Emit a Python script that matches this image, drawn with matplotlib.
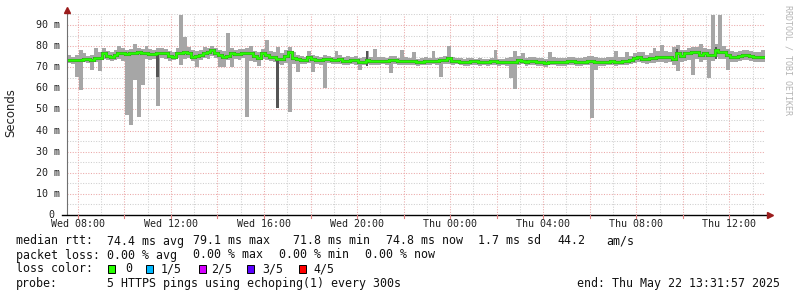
import matplotlib
matplotlib.use("Agg")
import matplotlib.pyplot as plt
from matplotlib.patches import Rectangle
import numpy as np

# smokeping data, 10 minute steps starting Wed 07:31:57
median = [73.2, 73.2, 73.4, 73.4, 73.8, 73.8, 73.2, 74.2, 74.5, 76.6,
          75.4, 75.0, 75.8, 76.6, 76.9, 76.3, 76.6, 76.6, 77.4, 76.9,
          76.6, 76.3, 76.3, 76.6, 76.9, 76.6, 75.4, 75.0, 76.6, 76.6,
          77.4, 76.6, 75.0, 75.4, 75.8, 76.9, 77.0, 78.2, 76.6, 75.8,
          75.0, 75.4, 76.6, 76.3, 76.3, 76.6, 76.6, 76.5, 75.4, 74.2,
          76.6, 75.8, 75.0, 75.0, 73.8, 73.8, 75.4, 77.0, 74.2, 74.0,
          73.4, 73.4, 75.0, 73.8, 73.4, 73.4, 73.8, 73.8, 73.4, 73.6,
          74.0, 73.0, 73.0, 73.4, 73.4, 72.6, 72.6, 73.4, 72.8, 72.8,
          72.8, 73.0, 73.0, 73.4, 73.4, 72.8, 72.8, 72.8, 72.8, 72.8,
          72.4, 72.4, 72.8, 72.8, 73.0, 73.0, 73.4, 73.4, 74.2, 73.0,
          73.0, 72.6, 72.4, 72.4, 72.8, 72.8, 72.6, 72.6, 72.4, 72.8,
          72.8, 72.4, 72.4, 72.4, 72.6, 72.6, 73.2, 73.0, 72.4, 73.0,
          73.0, 72.4, 72.4, 71.8, 72.6, 72.6, 72.4, 72.4, 72.4, 72.8,
          72.8, 72.5, 72.5, 72.5, 73.0, 73.0, 72.4, 72.4, 72.5, 72.6,
          72.8, 72.4, 72.6, 72.8, 73.0, 73.2, 74.2, 75.0, 74.0, 73.8,
          74.2, 74.2, 75.0, 75.0, 75.0, 75.0, 73.8, 76.6, 75.4, 76.6,
          76.6, 77.4, 77.0, 75.6, 76.6, 76.0, 75.8, 78.2, 77.0, 77.0,
          75.8, 75.0, 75.0, 75.4, 75.8, 75.8, 75.4, 75.0, 75.0, 75.0]

smoke_lo = [72.0, 71.5, 65.5, 59.0, 72.5, 72.0, 68.5, 72.5, 68.0, 74.0,
            73.5, 73.0, 73.5, 74.0, 73.0, 47.4, 42.6, 64.0, 46.6, 61.6,
            74.0, 73.5, 74.0, 51.6, 74.5, 74.0, 73.0, 73.5, 74.5, 71.0,
            74.0, 74.5, 73.0, 70.0, 73.5, 74.5, 74.0, 75.5, 74.5, 70.0,
            70.0, 73.5, 70.0, 74.0, 73.5, 74.5, 46.6, 73.0, 72.5, 70.5,
            74.0, 73.5, 73.0, 72.5, 71.5, 71.0, 72.0, 48.8, 71.5, 67.8,
            71.5, 71.5, 72.0, 67.8, 71.5, 71.0, 60.0, 72.0, 71.5, 71.5,
            71.5, 71.0, 71.0, 71.5, 71.0, 68.6, 71.0, 71.5, 71.0, 71.0,
            71.0, 71.5, 71.0, 67.4, 71.5, 71.0, 71.0, 71.0, 71.0, 71.0,
            70.5, 71.0, 71.0, 71.0, 71.5, 71.0, 65.5, 71.5, 71.5, 71.0,
            71.5, 71.0, 70.5, 70.5, 71.0, 71.0, 70.5, 71.0, 70.5, 71.0,
            71.0, 70.5, 71.0, 70.5, 64.8, 59.6, 71.0, 71.5, 70.5, 71.0,
            71.0, 70.5, 70.5, 70.0, 71.0, 71.0, 70.5, 70.5, 70.5, 71.0,
            71.0, 70.5, 70.5, 71.0, 71.0, 45.9, 68.6, 70.5, 70.5, 71.0,
            71.0, 70.5, 71.0, 71.0, 71.0, 71.5, 72.0, 72.5, 72.0, 71.5,
            72.0, 72.0, 72.5, 72.5, 72.0, 72.5, 71.0, 68.4, 72.5, 73.0,
            73.5, 66.3, 74.0, 72.5, 73.5, 64.7, 73.0, 75.0, 74.0, 74.0,
            68.6, 72.5, 72.5, 73.0, 73.5, 73.5, 73.0, 72.5, 72.5, 72.5]

smoke_hi = [76.0, 75.0, 76.0, 78.0, 76.5, 75.5, 76.0, 79.0, 77.0, 79.0,
            77.5, 77.0, 78.0, 80.0, 79.0, 78.0, 78.5, 81.0, 79.0, 78.5,
            80.0, 78.5, 78.0, 79.0, 79.0, 78.5, 77.5, 77.0, 79.0, 94.7,
            84.3, 79.5, 78.0, 77.5, 78.0, 79.5, 79.0, 80.0, 79.0, 78.0,
            77.5, 86.0, 79.0, 78.0, 78.5, 78.5, 79.0, 80.0, 77.5, 77.0,
            78.5, 83.0, 77.5, 77.0, 79.6, 76.5, 78.0, 79.6, 77.0, 76.0,
            75.5, 75.0, 77.5, 76.0, 75.5, 75.0, 76.0, 75.5, 75.0, 77.5,
            76.0, 75.0, 75.5, 75.0, 75.5, 74.5, 75.0, 77.6, 75.0, 78.5,
            75.0, 75.0, 74.5, 75.5, 75.5, 74.5, 78.0, 75.0, 74.5, 77.0,
            74.0, 74.5, 75.0, 74.5, 77.5, 74.5, 75.0, 75.5, 80.0, 75.0,
            74.5, 74.5, 74.0, 74.5, 74.5, 74.0, 74.5, 74.0, 74.0, 74.5,
            78.0, 74.0, 74.0, 74.5, 75.0, 77.5, 75.5, 76.5, 74.5, 75.0,
            75.0, 74.5, 74.5, 74.0, 77.0, 75.0, 74.5, 74.5, 74.5, 75.0,
            75.0, 74.5, 74.5, 75.0, 75.5, 75.5, 75.0, 74.5, 74.5, 75.0,
            75.0, 77.5, 75.0, 75.0, 77.0, 75.5, 76.5, 77.0, 77.4, 76.0,
            76.5, 79.0, 77.5, 80.5, 77.5, 77.0, 79.7, 80.5, 78.0, 78.0,
            79.0, 79.5, 79.5, 81.0, 79.0, 78.5, 94.7, 81.0, 94.7, 80.0,
            78.5, 77.5, 77.0, 77.5, 78.0, 78.0, 77.5, 77.0, 77.0, 78.0]

# darker inner smoke (ping 2..4) where it stands out
dark_idx = [23, 54, 77, 157, 167]
dark_lo = [65.4, 50.6, 70.5, 74.0, 74.0]
dark_hi = [76.6, 74.0, 77.5, 78.5, 79.5]

hour_ticks = [8, 12, 16, 20, 24, 28, 32, 36]
hour_labels = ["Wed 08:00", "Wed 12:00", "Wed 16:00", "Wed 20:00",
               "Thu 00:00", "Thu 04:00", "Thu 08:00", "Thu 12:00"]
y_ticks = [0, 10, 20, 30, 40, 50, 60, 70, 80, 90]
y_labels = ["0", "10 m", "20 m", "30 m", "40 m", "50 m", "60 m", "70 m", "80 m", "90 m"]

loss_labels = ["0", "1/5", "2/5", "3/5", "4/5"]
loss_colors = ["#26ff00", "#00b8ff", "#d400ff", "#5a00ff", "#ff0000"]

W, H = 797, 297
mono = "DejaVu Sans Mono"

start = 7 + 31 / 60 + 57 / 3600
step = 1 / 6
edges = start + np.arange(len(median) + 1) * step

fig = plt.figure(figsize=(W / 100, H / 100), dpi=100)
ax = fig.add_axes([67 / W, 82 / H, 698 / W, 201 / H])
ax.set_xlim(start, start + 30)
ax.set_ylim(0, 95.2)

# grid
for h in range(8, 38):
    c = "#eba8a8" if h % 2 == 0 else "#cfcfcf"
    ax.axvline(h, color=c, lw=0.75, ls=(0, (1, 1.5)), zorder=0)
for v in range(5, 100, 5):
    c = "#eba8a8" if v % 10 == 0 else "#cfcfcf"
    ax.axhline(v, color=c, lw=0.75, ls=(0, (1, 1.5)), zorder=0)

# smoke
lo = np.array(smoke_lo)
hi = np.array(smoke_hi)
ax.bar(edges[:-1], hi - lo, bottom=lo, width=step, align="edge",
       color="#a6a6a6", linewidth=0, zorder=1)
ax.bar(edges[dark_idx], np.array(dark_hi) - np.array(dark_lo), bottom=dark_lo,
       width=step * 0.6, align="edge", color="#555555", linewidth=0, zorder=2)

# median
ax.stairs(median, edges, baseline=None, color="#3a3a3a", lw=2.2, zorder=3)
ax.stairs(median, edges, baseline=None, color=loss_colors[0], lw=1.8, zorder=4)

for s in ax.spines.values():
    s.set_visible(False)
ax.set_xticks([])
ax.set_yticks([])

# axes lines with arrows
ax.plot([0, 0], [0, 1.015], transform=ax.transAxes, color="#707070", lw=0.8, clip_on=False, zorder=5)
ax.plot([-0.007, 1.005], [0, 0], transform=ax.transAxes, color="black", lw=1.0, clip_on=False, zorder=5)
ax.plot([0], [1.02], marker="^", ms=4, color="#9b1c1c", transform=ax.transAxes, clip_on=False, zorder=6)
ax.plot([1.0075], [0], marker=">", ms=4, color="#9b1c1c", transform=ax.transAxes, clip_on=False, zorder=6)

# x ticks and labels
for h in range(8, 38, 2):
    ax.plot([h, h], [-1.3, 0], color="#e08080", lw=0.8, clip_on=False, zorder=5)
for h, lab in zip(hour_ticks, hour_labels):
    ax.text(h, -4.4, lab, ha="center", va="center", family=mono, fontsize=7.2, color="#222222")

# y labels
cw = 0.602 * 7.2 * 100 / 72
for v, lab in zip(y_ticks, y_labels):
    xr = 60 if v else 60 - cw
    fig.text(xr / W, 1 - (215 - v * 201 / 95.2) / H, lab, ha="right", va="center",
             family=mono, fontsize=7.2, color="#222222")

fig.text(11 / W, 1 - 113 / H, "Seconds", rotation=90, ha="center", va="center",
         fontsize=8.4, color="#222222")
fig.text(788 / W, 1 - 5 / H, "RRDTOOL / TOBI OETIKER", rotation=270, ha="center", va="top",
         family=mono, fontsize=6, color="#b4b4b4")


def put(px, py, s):
    fig.text(px / W, 1 - py / H, s, ha="left", va="center", family=mono, fontsize=8.4, color="#111111")


for px, s in [(16, "median rtt:"), (107, "74.4 ms avg"), (193, "79.1 ms max"), (293, "71.8 ms min"),
              (386, "74.8 ms now"), (478, "1.7 ms sd"), (557, "44.2"), (606, "am/s")]:
    put(px, 241, s)
for px, s in [(16, "packet loss:"), (107, "0.00 % avg"), (193, "0.00 % max"),
              (279, "0.00 % min"), (365, "0.00 % now")]:
    put(px, 255, s)
put(16, 269, "loss color:")
for sx, tx, lab, col in zip([108, 146, 199, 247, 299], [125, 161, 211, 262, 313], loss_labels, loss_colors):
    fig.patches.append(Rectangle((sx / W, 1 - 273 / H), 7 / W, 8 / H, transform=fig.transFigure,
                                 facecolor=col, edgecolor="black", lw=0.7))
    put(tx, 269, lab)
put(16, 283, "probe:")
put(107, 283, "5 HTTPS pings using echoping(1) every 300s")
put(577, 283, "end: Thu May 22 13:31:57 2025")

fig.savefig("out.png", dpi=100, facecolor="white")
